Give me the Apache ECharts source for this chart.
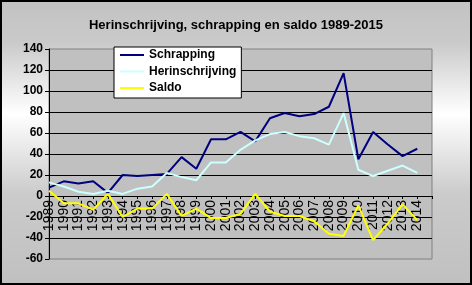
<!DOCTYPE html>
<html>
<head>
<meta charset="utf-8">
<script src="https://cdn.jsdelivr.net/npm/echarts@6/dist/echarts.min.js"></script>
<style>html,body{margin:0;padding:0;}#c{width:472px;height:285px;}</style>
</head>
<body>
<div id="c"></div>
<script>
const years = ['1989','1990','1991','1992','1993','1994','1995','1996','1997','1998','1999','2000','2001','2002','2003','2004','2005','2006','2007','2008','2009','2010','2011','2012','2013','2014','2015'];
const schrapping = [8,14,12,14,3,20,19,20,21,37,26,54,54,61,52,74,79,76,78,85,117,35,61,49,38,45,null];
const herinschrijving = [13,9,4,2,5,2,7,9,22,18,15,32,32,44,53,59,61,57,55,49,79,25,19,24,29,22,null];
const saldo = [5,-7,-7,-13,2,-20,-12,-12,2,-19,-12,-21,-21,-17,2,-15,-19,-19,-24,-36,-38,-9,-42,-26,-8,-23,null];
const yTicks = {min:-60, max:140, interval:20};

const gridTop = 49, gridBottom = 26, H = 285;
const plotH = H - gridTop - gridBottom;
// distance from bottom of the plot to the value 0
const zeroOffset = plotH * (0 - yTicks.min) / (yTicks.max - yTicks.min);

const lineIcon = 'path://M0,0L0.001,0L0,0.001ZM0,6L24,6L24,8L0,8ZM23.999,14L24,14L24,13.999Z';
const chart = echarts.init(document.getElementById('c'), null, {renderer:'canvas'});
chart.setOption({
  animation:false,
  backgroundColor:{type:'linear',x:0,y:0,x2:0,y2:1,colorStops:[
    {offset:0,color:'#c2c2c2'},{offset:0.15,color:'#cacaca'},{offset:0.4,color:'#ffffff'},
    {offset:0.68,color:'#cbcbcb'},{offset:1,color:'#c0c0c0'}]},
  title:{text:'Herinschrijving, schrapping en saldo 1989-2015',left:'center',top:14,
    textStyle:{fontFamily:'Liberation Sans',fontSize:13,fontWeight:'bold',color:'#000'}},
  graphic:[{type:'rect',shape:{x:1,y:1,width:470,height:283},style:{fill:'none',stroke:'#000',lineWidth:2},z:100}],
  legend:{left:114,top:47,orient:'vertical',backgroundColor:'#fff',borderColor:'#000',borderWidth:1,borderRadius:0,
    padding:[1,5,3,6],itemWidth:24,itemHeight:14,itemGap:2.5,icon:lineIcon,
    textStyle:{fontFamily:'Liberation Sans',fontSize:12,fontWeight:'bold',color:'#000'},
    data:['Schrapping','Herinschrijving','Saldo']},
  grid:{left:49,top:gridTop,right:40,bottom:gridBottom,show:true,backgroundColor:'#c0c0c0',borderColor:'#808080',borderWidth:1,
    containLabel:false,outerBoundsMode:'none'},
  xAxis:{type:'category',data:years,boundaryGap:false,position:'bottom',offset:-zeroOffset,
    axisLine:{onZero:false,lineStyle:{color:'#000',width:1}},
    axisTick:{show:true,length:3,interval:0,lineStyle:{color:'#000'}},
    axisLabel:{rotate:90,margin:4,interval:function(i){return i < years.length - 1;},
      fontFamily:'Liberation Sans',fontSize:14,color:'#000'},
    splitLine:{show:false}},
  yAxis:{type:'value',min:yTicks.min,max:yTicks.max,interval:yTicks.interval,
    axisLine:{show:true,lineStyle:{color:'#000',width:1}},
    axisTick:{show:true,length:4,lineStyle:{color:'#000'}},
    axisLabel:{margin:6,fontFamily:'Liberation Sans',fontSize:12,fontWeight:'bold',color:'#000'},
    splitLine:{show:true,showMinLine:false,showMaxLine:false,lineStyle:{color:'#000',width:1}}},
  series:[
    {name:'Schrapping',type:'line',data:schrapping,symbol:'none',color:'#000080',lineStyle:{width:2,color:'#000080'}},
    {name:'Herinschrijving',type:'line',data:herinschrijving,symbol:'none',color:'#ccffff',lineStyle:{width:2,color:'#ccffff'}},
    {name:'Saldo',type:'line',data:saldo,symbol:'none',color:'#ffff00',lineStyle:{width:2,color:'#ffff00'}}
  ]
});
</script>
</body>
</html>
